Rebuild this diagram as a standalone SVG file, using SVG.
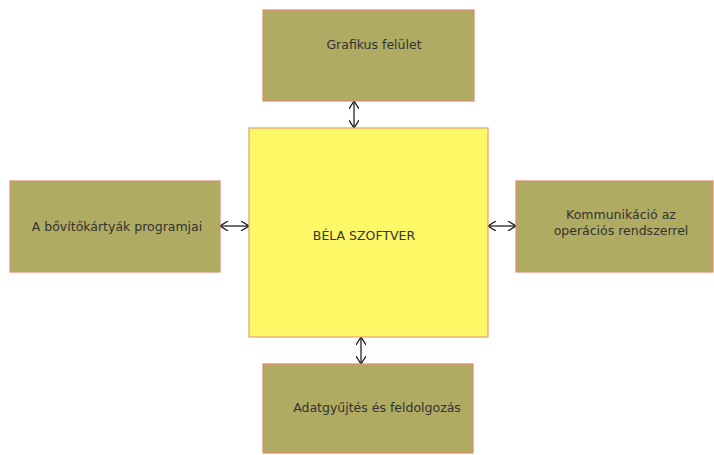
<svg xmlns="http://www.w3.org/2000/svg" width="714" height="455" viewBox="0 0 714 455">
<style>
.box{fill:#afab62;stroke:#e08a6e;stroke-width:1.2}
.main{fill:#fdf865;stroke:#e0a07a;stroke-width:1.2}
text{font-family:"DejaVu Sans",sans-serif;font-size:12.5px;fill:#333;text-anchor:middle}
.conn{stroke:#111;stroke-width:1.2;fill:none;marker-start:url(#a);marker-end:url(#a)}
</style>
<defs>
<marker id="a" viewBox="0 0 10 10" refX="10" refY="5" markerWidth="10" markerHeight="10" markerUnits="userSpaceOnUse" orient="auto-start-reverse">
<path d="M2,0 L10,5 L2,10" fill="none" stroke="#111" stroke-width="1.2"/>
</marker>
</defs>
<rect width="714" height="455" fill="#fff"/>
<g id="connectors">
<line class="conn" x1="354" y1="101" x2="354" y2="128"/>
<line class="conn" x1="361" y1="337" x2="361" y2="364"/>
<line class="conn" x1="220" y1="226" x2="249" y2="226"/>
<line class="conn" x1="488" y1="226" x2="516" y2="226"/>
</g>
<g id="main">
<rect class="main" x="249" y="128" width="239" height="209"/>
<text x="364" y="240">BÉLA SZOFTVER</text>
</g>
<g id="grafikus">
<rect class="box" x="263" y="10" width="211" height="91"/>
<text x="374" y="49">Grafikus felület</text>
</g>
<g id="bovito">
<rect class="box" x="10" y="181" width="210" height="91"/>
<text x="117" y="231">A bővítőkártyák programjai</text>
</g>
<g id="kommunikacio">
<rect class="box" x="516" y="181" width="197" height="91"/>
<text x="621" y="219">Kommunikáció az</text>
<text x="621" y="235">operációs rendszerrel</text>
</g>
<g id="adatgyujtes">
<rect class="box" x="263" y="364" width="210" height="89"/>
<text x="377" y="412">Adatgyűjtés és feldolgozás</text>
</g>
</svg>
